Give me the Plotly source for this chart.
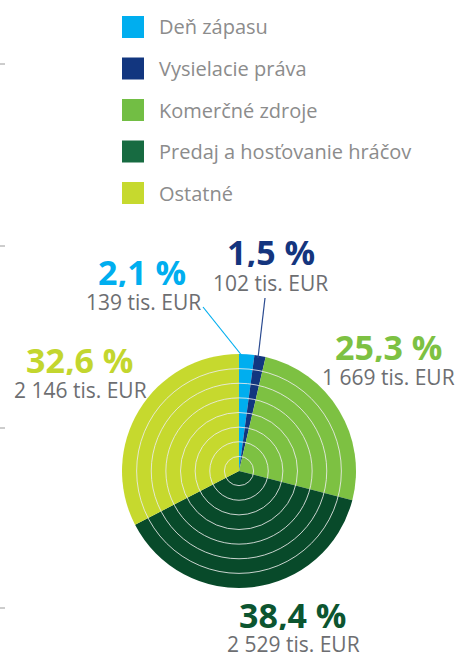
import plotly.graph_objects as go

# ---- data ----
categories = ["Deň zápasu", "Vysielacie práva", "Komerčné zdroje",
              "Predaj a hosťovanie hráčov", "Ostatné"]
values_tis_eur = [139, 102, 1669, 2529, 2146]
percent = [2.1, 1.5, 25.3, 38.4, 32.6]

# ---- styles ----
slice_colors = ["#00AEEF", "#12367F", "#7DC142", "#084A2A", "#C6D92E"]
legend_colors = ["#00AEEF", "#12367F", "#72BE44", "#176B41", "#C6D92E"]
pct_colors = ["#00AEEF", "#14357E", "#7DC142", "#0C5530", "#C3D62E"]

W, H = 455, 655
CX, CY, R = 239, 471, 117   # pie centre/radius in px


def px(x):
    return x / W


def py(y):
    return 1 - y / H


def fmt_pct(p):
    return f"{p:.1f}".replace(".", ",") + " %"


def fmt_val(v):
    return f"{v:,}".replace(",", " ") + " tis. EUR"


fig = go.Figure()
fig.add_trace(go.Pie(
    labels=categories, values=values_tis_eur,
    marker=dict(colors=slice_colors, line=dict(width=0)),
    sort=False, direction="clockwise", rotation=0,
    textinfo="none", hoverinfo="label+value+percent",
    showlegend=False,
    domain=dict(x=[px(CX - R), px(CX + R)], y=[py(CY + R), py(CY - R)]),
))

shapes = []
# concentric rings
for i in range(1, 8):
    r = R * i / 8
    shapes.append(dict(type="circle", xref="paper", yref="paper",
                       x0=px(CX - r), x1=px(CX + r), y0=py(CY + r), y1=py(CY - r),
                       line=dict(color="rgba(235,235,235,0.85)", width=1),
                       layer="above"))

annotations = []
# manual legend
leg_x, leg_y0, leg_dy, sq = 122, 27, 41.5, 22
for k, (cat, col) in enumerate(zip(categories, legend_colors)):
    yc = leg_y0 + k * leg_dy
    shapes.append(dict(type="rect", xref="paper", yref="paper",
                       x0=px(leg_x), x1=px(leg_x + sq),
                       y0=py(yc + sq / 2), y1=py(yc - sq / 2),
                       fillcolor=col, line=dict(width=0)))
    annotations.append(dict(x=px(157), y=py(yc), xref="paper", yref="paper",
                            text=cat, showarrow=False, xanchor="left", yanchor="middle",
                            font=dict(family="Open Sans", size=20, color="#8c8c8c")))

# label positions (px): percent label centre, value label centre
label_pos = [
    ((142, 272), (143, 302)),
    ((271, 252), (270, 283)),
    ((388, 347), (388, 377)),
    ((292, 615), (293, 644)),
    ((79, 360), (80, 390)),
]
for p, v, col, (pp, vp) in zip(percent, values_tis_eur, pct_colors, label_pos):
    annotations.append(dict(x=px(pp[0]), y=py(pp[1]), xref="paper", yref="paper",
                            text=f"<b>{fmt_pct(p)}</b>", showarrow=False,
                            xanchor="center", yanchor="middle", height=30,
                            valign="middle", borderpad=0,
                            font=dict(family="Open Sans", size=34, color=col)))
    annotations.append(dict(x=px(vp[0]), y=py(vp[1]), xref="paper", yref="paper",
                            text=fmt_val(v), showarrow=False,
                            xanchor="center", yanchor="middle", height=20,
                            valign="middle", borderpad=0,
                            font=dict(family="Open Sans", size=21, color="#6d6e71")))

# leader lines
shapes.append(dict(type="line", xref="paper", yref="paper",
                   x0=px(203), y0=py(307), x1=px(243), y1=py(357),
                   line=dict(color="#00AEEF", width=1.2)))
shapes.append(dict(type="line", xref="paper", yref="paper",
                   x0=px(265), y0=py(298), x1=px(258), y1=py(358),
                   line=dict(color="#2a4a90", width=1.2)))

# small left edge ticks
for ty in [64, 246, 428, 608]:
    shapes.append(dict(type="line", xref="paper", yref="paper",
                       x0=0, y0=py(ty), x1=px(5), y1=py(ty),
                       line=dict(color="#9a9a9a", width=1)))

fig.update_layout(
    width=W, height=H,
    margin=dict(l=0, r=0, t=0, b=0),
    paper_bgcolor="white", plot_bgcolor="white",
    shapes=shapes, annotations=annotations,
    showlegend=False,
)

fig.write_html("out.html", config={"displayModeBar": False})

# remove default page margin so the figure sits at the window origin
with open("out.html", encoding="utf-8") as f:
    html = f.read()
html = html.replace("<head>", "<head><style>html,body{margin:0;padding:0;overflow:hidden;}</style>", 1)
with open("out.html", "w", encoding="utf-8") as f:
    f.write(html)
